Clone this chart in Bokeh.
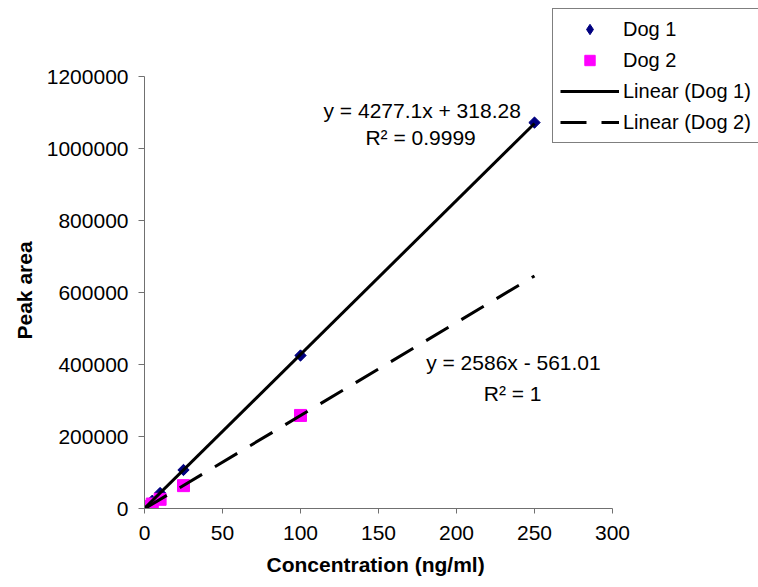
import math
from bokeh.plotting import figure
from bokeh.models import (Legend, LegendItem, Label, FixedTicker, BasicTickFormatter,
                          Range1d, Title)
from bokeh.embed import file_html
from bokeh.resources import INLINE

# ---- data ----
dog1_conc = [1, 2.5, 5, 10, 25, 100, 250]
dog1_area = [4500, 11000, 21500, 43000, 107000, 425000, 1072000]
dog2_conc = [1, 2.5, 5, 10, 25, 100]
dog2_area = [2000, 6000, 12500, 25500, 63500, 258500]

# trend lines as printed on the chart
fit1_slope, fit1_intercept = 4277.1, 318.28
fit2_slope, fit2_intercept = 2586.0, -561.01
fit_x = [0, 250]
fit1_y = [fit1_slope * x + fit1_intercept for x in fit_x]
fit2_y = [fit2_slope * x + fit2_intercept for x in fit_x]

x_ticks = [0, 50, 100, 150, 200, 250, 300]
y_ticks = [0, 200000, 400000, 600000, 800000, 1000000, 1200000]

FONT = "Liberation Sans"

# plot area: x axis 0..300 over 468 px, y axis 0..1.2M over 432 px;
# the frame is extended up/right so the legend is not clipped
W, H = 758, 587
LEFT, BOTTOM = 144, 79
x_end = 300 * (W - LEFT) / 468.0
y_end = 1200000 * (H - BOTTOM) / 432.0

p = figure(width=W, height=H,
           x_range=Range1d(0, x_end, bounds=None),
           y_range=Range1d(0, y_end, bounds=None),
           output_backend="svg", toolbar_location=None,
           min_border_left=LEFT, min_border_right=0,
           min_border_top=0, min_border_bottom=BOTTOM)
p.xgrid.visible = False
p.ygrid.visible = False
p.outline_line_color = None
p.background_fill_color = "white"
p.border_fill_color = "white"

AX = "#707070"
for ax in (p.xaxis[0], p.yaxis[0]):
    ax.axis_line_color = AX
    ax.major_tick_line_color = AX
    ax.minor_tick_line_color = None
    ax.major_tick_in = 0
    ax.major_label_text_font = FONT
    ax.major_label_text_font_size = "21px"
    ax.major_label_text_color = "black"

p.xaxis.ticker = FixedTicker(ticks=x_ticks)
p.yaxis.ticker = FixedTicker(ticks=y_ticks)
p.xaxis.bounds = (0, 300)
p.yaxis.bounds = (0, 1200000)
p.yaxis.formatter = BasicTickFormatter(use_scientific=False)
p.xaxis.major_tick_out = 5
p.yaxis.major_tick_out = 6
p.xaxis.major_label_standoff = 12
p.yaxis.major_label_standoff = 10

# axis titles, left-aligned with offsets so they centre on the axis spans
p.add_layout(Title(text="Concentration (ng/ml)", align="left", offset=122,
                   text_font=FONT, text_font_size="21px", text_font_style="bold",
                   text_color="black", standoff=16), "below")
p.add_layout(Title(text="Peak area", align="left", offset=169,
                   text_font=FONT, text_font_size="21px", text_font_style="bold",
                   text_color="black", standoff=16), "left")

# Dog 1: an upright diamond (used as the legend swatch) under rotated squares
r1_key = p.scatter(dog1_conc, dog1_area, marker="diamond", size=10,
                   fill_color="#000080", line_color="#000080")
r1 = p.scatter(dog1_conc, dog1_area, marker="square", size=8, angle=math.pi / 4,
               fill_color="#000080", line_color="#000080")
r2 = p.scatter(dog2_conc, dog2_area, marker="square", size=12,
               fill_color="#FF00FF", line_color="#FF00FF")
l1 = p.line(fit_x, fit1_y, line_color="black", line_width=3)
l2 = p.line(fit_x, fit2_y, line_color="black", line_width=3, line_dash="26 15")

legend = Legend(items=[
    LegendItem(label="Dog 1", renderers=[r1_key]),
    LegendItem(label="Dog 2", renderers=[r2]),
    LegendItem(label="Linear (Dog 1)", renderers=[l1]),
    LegendItem(label="Linear (Dog 2)", renderers=[l2]),
], location=(408, 365))
legend.label_text_font = FONT
legend.label_text_font_size = "20px"
legend.label_text_color = "black"
legend.glyph_width = 59
legend.glyph_height = 26
legend.label_height = 26
legend.label_width = 140
legend.label_standoff = 4
legend.spacing = 5
legend.padding = 7
legend.margin = 0
legend.border_line_color = "black"
legend.border_line_width = 1
legend.background_fill_color = "white"
legend.background_fill_alpha = 1
p.add_layout(legend, "center")

labels = [
    ("y = 4277.1x + 318.28", 178, 1105500),
    ("R\u00b2 = 0.9999", 177, 1031400),
    ("y = 2586x - 561.01", 236.5, 406400),
    ("R\u00b2 = 1", 236, 318600),
]
for txt, lx, ly in labels:
    p.add_layout(Label(x=lx, y=ly, text=txt, text_align="center",
                       text_baseline="middle", text_font=FONT,
                       text_font_size="21px", text_color="black"))

open("out.html", "w").write(file_html(p, INLINE))
